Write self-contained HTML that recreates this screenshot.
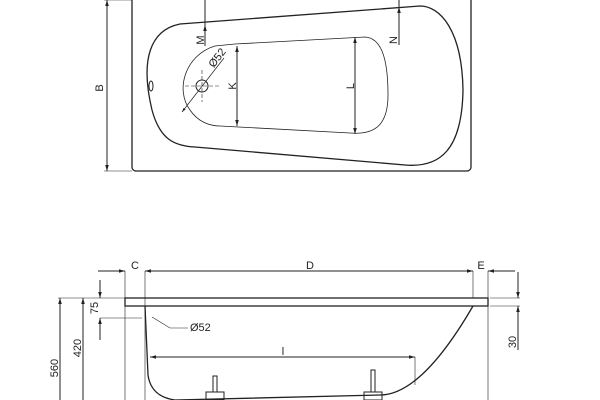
<!DOCTYPE html>
<html><head><style>body{margin:0;background:#fff}svg{display:block}text{font-family:"Liberation Sans",sans-serif;font-size:11px;fill:#222}</style></head><body>
<svg width="600" height="400" viewBox="0 0 600 400" xmlns="http://www.w3.org/2000/svg">
<defs><marker id="a" viewBox="0 0 10 10" refX="10" refY="5" markerWidth="8" markerHeight="6" orient="auto-start-reverse"><path d="M0,2 L10,5 L0,8 z" fill="#222"/></marker></defs>
<g stroke="#222" fill="none" stroke-width="1">
<rect x="132" y="-4" width="339" height="175" rx="4" stroke-width="1.3"/>
<path d="M180,24 C150,30 140,60 152,110 C160,140 175,146 195,147 L405,165 C440,168 462,150 463,90 C462,30 440,6 420,6 L180,24 Z" stroke-width="1.3"/>
<path d="M215,46 C185,55 175,90 190,110 C198,122 210,126 220,126 L350,133 C375,135 388,125 388,95 C388,55 380,38 365,37 L235,44 Z" stroke-width="0.8"/>
<ellipse cx="151" cy="86" rx="2" ry="5"/>
<circle cx="202" cy="86" r="6"/>
<path d="M185,86 H220 M202,70 V102" stroke-dasharray="4,2" stroke-width="0.6"/>
<path d="M182,112 L224,58" stroke-width="0.7" marker-start="url(#a)"/>
<line x1="205" y1="0" x2="205" y2="25"/><line x1="205" y1="46" x2="205" y2="25" marker-end="url(#a)"/>
<line x1="399" y1="0" x2="399" y2="45"/><line x1="399" y1="45" x2="399" y2="7" marker-end="url(#a)"/>
<line x1="237" y1="46" x2="237" y2="126" marker-start="url(#a)" marker-end="url(#a)"/>
<line x1="355" y1="37" x2="355" y2="134" marker-start="url(#a)" marker-end="url(#a)"/>
<line x1="107" y1="0" x2="107" y2="171" marker-start="url(#a)" marker-end="url(#a)"/>
<path d="M104,0 H132 M104,171 H132" stroke-width="0.6"/>
<rect x="125" y="298" width="363" height="8" stroke-width="1.3"/>
<path d="M125,271 V400 M145,271 V400 M473,271 V298 M488,271 V400 M58,298 H125 M100,318 H142 M490,298 H520 M490,306 H520" stroke-width="0.6"/>
<line x1="98" y1="271" x2="125" y2="271" marker-end="url(#a)"/>
<line x1="145" y1="271" x2="473" y2="271" marker-start="url(#a)" marker-end="url(#a)"/>
<line x1="515" y1="271" x2="488" y2="271" marker-end="url(#a)"/>
<line x1="100" y1="280" x2="100" y2="298" marker-end="url(#a)"/>
<line x1="100" y1="340" x2="100" y2="318" marker-end="url(#a)"/>
<line x1="518" y1="272" x2="518" y2="298" marker-end="url(#a)"/>
<line x1="518" y1="350" x2="518" y2="306" marker-end="url(#a)"/>
<line x1="83" y1="400" x2="83" y2="298" marker-end="url(#a)"/>
<line x1="60" y1="400" x2="60" y2="298" marker-end="url(#a)"/>
<path d="M145,306 L148,375 C150,390 160,398 175,400 L380,395 C400,395 430,380 473,306" stroke-width="1.3"/>
<line x1="150" y1="357" x2="415" y2="357" marker-start="url(#a)" marker-end="url(#a)"/>
<path d="M415,357 V385 M152,317 L170,328 H188" stroke-width="0.6"/>
<path d="M206,392 h18 v8 h-18z M213,376 h4 v16 h-4z M364,392 h18 v8 h-18z M371,370 h4 v22 h-4z" stroke-width="1"/>
</g>
<text x="103" y="88" transform="rotate(-90 103 88)" text-anchor="middle">B</text>
<text x="204" y="40" transform="rotate(-90 204 40)" text-anchor="middle">M</text>
<text x="397" y="40" transform="rotate(-90 397 40)" text-anchor="middle">N</text>
<text x="236" y="86" transform="rotate(-90 236 86)" text-anchor="middle">K</text>
<text x="354" y="86" transform="rotate(-90 354 86)" text-anchor="middle">L</text>
<text x="220" y="60" transform="rotate(-52 220 60)" text-anchor="middle">Ø52</text>
<text x="135" y="269" text-anchor="middle">C</text>
<text x="310" y="269" text-anchor="middle">D</text>
<text x="481" y="269" text-anchor="middle">E</text>
<text x="98" y="308" transform="rotate(-90 98 308)" text-anchor="middle">75</text>
<text x="81" y="348" transform="rotate(-90 81 348)" text-anchor="middle">420</text>
<text x="58" y="368" transform="rotate(-90 58 368)" text-anchor="middle">560</text>
<text x="516" y="342" transform="rotate(-90 516 342)" text-anchor="middle">30</text>
<text x="190" y="331">Ø52</text>
<text x="283" y="355" text-anchor="middle">l</text>
</svg>
</body></html>
